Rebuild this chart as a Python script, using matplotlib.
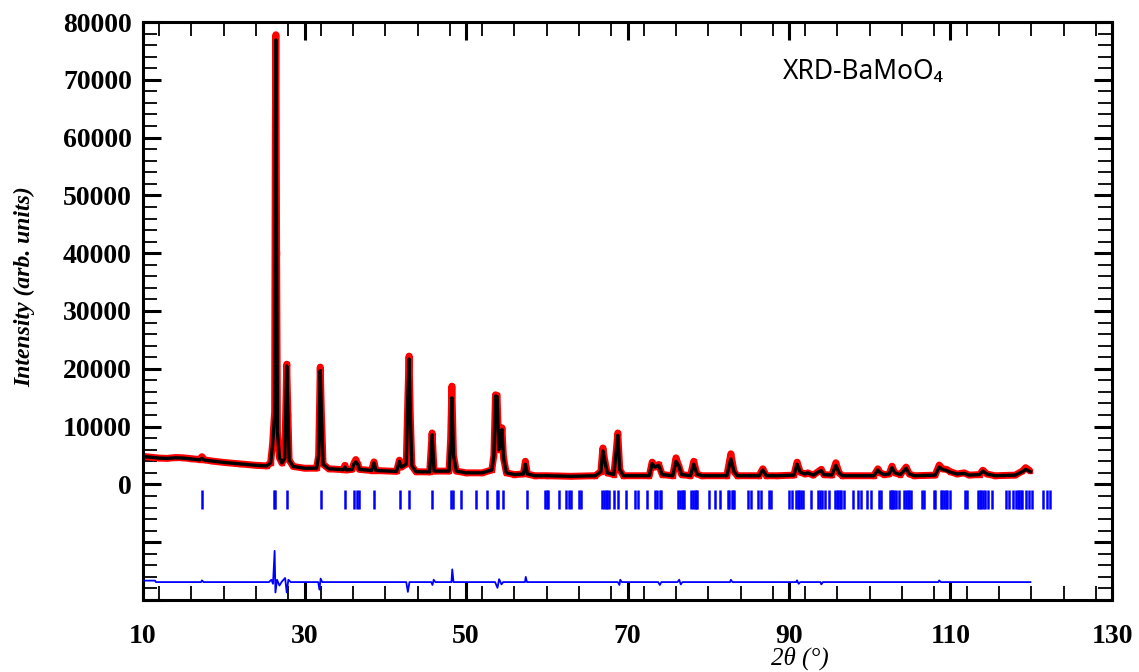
import matplotlib
matplotlib.use("Agg")
import matplotlib.pyplot as plt
from matplotlib.ticker import MultipleLocator

two_theta = [
    10.0, 11.0, 12.0, 13.0, 14.0, 15.0, 16.0, 17.0, 17.3, 17.6, 18.5, 20.0,
    22.0, 24.0, 25.3, 25.8, 26.05, 26.2, 26.3, 26.38, 26.45, 26.55, 26.65,
    26.9, 27.2, 27.55, 27.7, 27.8, 27.95, 28.1, 28.6, 30.0, 31.5, 31.75,
    31.95, 32.1, 32.3, 33.0, 34.8, 35.0, 35.2, 35.9, 36.1, 36.35, 36.6, 36.8,
    38.3, 38.6, 38.85, 41.4, 41.75, 42.0, 42.6, 42.8, 42.95, 43.1, 43.3, 43.8,
    45.5, 45.8, 46.05, 47.9, 48.1, 48.25, 48.45, 48.8, 50.0, 52.0, 53.2,
    53.45, 53.65, 53.85, 54.05, 54.3, 54.45, 54.65, 55.0, 56.0, 57.1, 57.35,
    57.6, 58.5, 60.0, 63.0, 66.0, 66.7, 66.95, 67.2, 67.5, 68.3, 68.55, 68.8,
    69.05, 69.5, 72.7, 73.05, 73.4, 73.85, 74.3, 75.6, 76.0, 76.35, 76.7,
    77.8, 78.2, 78.6, 79.2, 82.3, 82.8, 83.2, 83.6, 86.3, 86.75, 87.2, 88.5,
    90.6, 91.0, 91.4, 92.0, 92.3, 93.0, 93.7, 94.0, 94.3, 95.3, 95.8, 96.2,
    96.6, 100.5, 101.0, 101.3, 101.8, 102.4, 102.75, 103.1, 103.8, 104.5,
    104.9, 105.5, 108.1, 108.6, 109.0, 109.5, 110.0, 110.8, 111.7, 112.3,
    113.6, 114.0, 114.5, 115.5, 118.0, 118.9, 119.3, 119.9,
]
y_obs = [
    4850, 4700, 4550, 4500, 4650, 4600, 4450, 4300, 4800, 4250, 4050, 3800,
    3550, 3300, 3200, 3700, 7000, 10500, 12500, 60000, 77800, 40000, 9000,
    4600, 3700, 4500, 14000, 20800, 12000, 4200, 3100, 2800, 2800, 5000,
    20300, 12000, 3500, 2700, 2550, 3300, 2500, 2600, 3600, 4300, 3500, 2600,
    2400, 3900, 2400, 2250, 4200, 3000, 3500, 15000, 22200, 12000, 3200, 2200,
    2150, 8900, 2300, 2300, 8000, 17000, 5000, 2300, 2000, 2000, 2500,
    5000, 15500, 15400, 6000, 7000, 9800, 4500, 2000, 1700, 1800, 4000,
    1800, 1500, 1500, 1400, 1500, 2200, 6300, 4000, 2000, 1700, 5000, 8900,
    2500, 1500, 1500, 3850, 3000, 3450, 1700, 1500, 4600, 3200, 1700,
    1500, 4000, 1800, 1500, 1500, 5300, 2200, 1500, 1500, 2700, 1500, 1500,
    1600, 3850, 2100, 1800, 2000, 1600, 2300, 2600, 1700, 1600, 3750, 2000,
    1500, 1500, 2700, 2000, 1700, 1800, 3150, 2000, 1700, 3000,
    1800, 1500, 1600, 3350, 2700, 2600, 2200, 1800, 2000, 1600,
    1700, 2450, 1800, 1500, 1600, 2300, 2900, 2300,
]
y_calc = [
    4800, 4700, 4550, 4500, 4600, 4550, 4400, 4250, 4500, 4200, 4050, 3800,
    3550, 3300, 3200, 3700, 6800, 10000, 12000, 58000, 76900, 40000, 9000,
    4600, 3700, 4500, 13500, 20500, 12000, 4200, 3100, 2800, 2800, 5000,
    19700, 12000, 3500, 2700, 2550, 3000, 2500, 2600, 3500, 3900, 3500, 2600,
    2400, 3700, 2400, 2250, 4000, 3000, 3500, 15000, 21700, 12000, 3200, 2200,
    2150, 8600, 2300, 2300, 7500, 15000, 5000, 2300, 2000, 2000, 2500,
    5000, 15300, 15200, 6000, 7000, 9500, 4500, 2000, 1700, 1800, 3500,
    1800, 1500, 1500, 1400, 1500, 2200, 5800, 4000, 2000, 1700, 5000, 8500,
    2500, 1500, 1500, 3600, 3000, 3300, 1700, 1500, 4000, 3200, 1700,
    1500, 3500, 1800, 1500, 1500, 4400, 2200, 1500, 1500, 2500, 1500, 1500,
    1600, 3500, 2100, 1800, 2000, 1600, 2200, 2400, 1700, 1600, 3300, 2000,
    1500, 1500, 2500, 2000, 1700, 1800, 2900, 2000, 1700, 2800,
    1800, 1500, 1600, 3000, 2600, 2400, 2100, 1800, 1900, 1600,
    1700, 2300, 1800, 1500, 1600, 2200, 2600, 2200,
]

# ── difference curve (obs - calc, offset) ─────────────────────────────────────
diff_tt = [
    10.0, 11.5, 11.6, 17.2, 17.3, 17.5, 25.6, 25.9, 26.1, 26.3, 26.4, 26.6,
    26.9, 27.2, 27.6, 27.8, 28.0, 28.3, 31.7, 31.85, 32.0, 32.2, 42.6, 42.8,
    43.0, 45.7, 45.85, 46.0, 46.2, 48.2, 48.3, 48.45, 53.6, 53.9, 54.1, 54.4,
    54.6, 57.3, 57.4, 57.55, 68.8, 69.0, 69.1, 69.3, 73.8, 74.0, 74.2, 76.2,
    76.4, 76.6, 76.8, 82.7, 82.8, 83.0, 90.9, 91.0, 91.2, 91.4, 93.9, 94.0,
    94.2, 108.5, 108.6, 108.8, 119.9,
]
diff_y = [
    -16650, -16650, -16900, -16900, -16600, -16900, -16900, -16500, -17200,
    -11500, -18700, -16500, -17500, -16800, -16200, -18700, -16500, -16900,
    -16900, -18200, -16300, -16900, -16900, -18600, -16900, -16900, -17400,
    -16500, -16900, -16900, -14700, -16900, -16900, -17900, -16400, -17300,
    -16900, -16900, -16000, -16900, -16900, -17400, -16500, -16900, -16900,
    -17400, -16900, -16900, -16500, -17300, -16900, -16900, -16500, -16900,
    -16900, -16600, -17200, -16900, -16900, -17300, -16900, -16900, -16600,
    -16900, -16900,
]

# ── Bragg reflection positions ───────────────────────────────────────────────
bragg = [
    17.3, 26.2, 26.4, 27.8, 32.0, 35.0, 36.1, 36.5, 36.7, 38.6, 41.8, 42.95,
    45.8, 48.2, 48.4, 49.4, 51.2, 52.6, 53.8, 54.0, 54.6, 57.5, 59.8, 60.0,
    60.2, 61.5, 62.4, 62.7, 63.0, 64.0, 64.2, 66.9, 67.1, 67.3, 67.5, 67.7,
    68.3, 68.8, 69.8, 70.9, 71.3, 72.4, 73.4, 73.6, 74.0, 74.2, 76.3, 76.5,
    76.7, 76.9, 77.05, 77.9, 78.1, 78.3, 78.5, 78.6, 80.06, 80.8, 81.4, 82.4,
    82.6, 82.9, 83.1, 83.2, 84.9, 85.3, 86.1, 86.5, 87.5, 87.8, 90.05, 90.4,
    90.9, 91.1, 91.3, 91.5, 91.7, 92.7, 93.6, 93.8, 94.1, 94.5, 94.9, 95.7,
    95.9, 96.1, 96.3, 96.5, 96.8, 97.9, 98.6, 98.9, 99.7, 100.15, 101.2,
    101.4, 102.5, 102.7, 102.8, 103.0, 103.2, 103.6, 104.3, 104.5, 104.7,
    104.9, 105.1, 106.5, 106.75, 107.9, 108.1, 108.8, 109.0, 109.2, 109.4,
    109.6, 110.0, 111.8, 112.1, 113.4, 113.6, 113.8, 114.0, 114.3, 114.6,
    115.1, 116.85, 117.3, 117.7, 118.1, 118.3, 118.5, 118.7, 118.9, 119.3,
    119.7, 120.1, 121.5, 121.9, 122.3,
]

x_major = [10, 30, 50, 70, 90, 110, 130]
y_major = [0, 10000, 20000, 30000, 40000, 50000, 60000, 70000, 80000]

serif = "Liberation Serif"

fig = plt.figure(figsize=(11.39, 6.72), dpi=100)
ax = fig.add_axes([143 / 1139, 1 - 600 / 672, (1112 - 143) / 1139, (600 - 22) / 672])

ax.plot(two_theta, y_obs, color="#ff0000", lw=5, solid_capstyle="butt", zorder=2)
ax.plot(two_theta, y_obs, "s", color="#ff0000", ms=3.5, zorder=2)
ax.plot(two_theta, y_calc, color="black", lw=2.4, zorder=3)
ax.vlines(bragg, -1000, -4200, color="#0000ff", lw=1.8, zorder=3)
ax.plot(diff_tt, diff_y, color="#0000ff", lw=1.3, zorder=3)

ax.set_xlim(10, 130)
ax.set_ylim(-20000, 80000)
ax.set_xticks(x_major)
ax.xaxis.set_minor_locator(MultipleLocator(4))
ax.set_yticks(list(range(-20000, 80001, 10000)))
ax.set_yticklabels(["", ""] + [str(v) for v in y_major])
ax.yaxis.set_minor_locator(MultipleLocator(2000))

ax.tick_params(which="both", direction="in", top=True, right=True, colors="black")
ax.tick_params(which="major", length=13, width=2.2)
ax.tick_params(which="minor", length=10, width=1.3)
ax.tick_params(axis="x", which="major", pad=17)
ax.tick_params(axis="y", which="major", pad=8)
for lab in ax.get_xticklabels() + ax.get_yticklabels():
    lab.set_fontfamily(serif)
    lab.set_fontweight("bold")
    lab.set_fontsize(20)
for sp in ax.spines.values():
    sp.set_linewidth(2.2)

fig.text(25 / 1139, 1 - 287 / 672, "Intensity (arb. units)", rotation=90,
         ha="center", va="center", family=serif, fontweight="bold",
         style="italic", fontsize=17)
fig.text(800 / 1139, 1 - 647 / 672, "2θ (°)", ha="center", va="top",
         family=serif, style="italic", fontsize=18)
fig.text(783 / 1139, 1 - 72 / 672, "XRD-BaMoO₄", ha="left", va="center",
         family=["Noto Sans", "DejaVu Sans"], fontsize=19)

fig.savefig("out.png", dpi=100)
